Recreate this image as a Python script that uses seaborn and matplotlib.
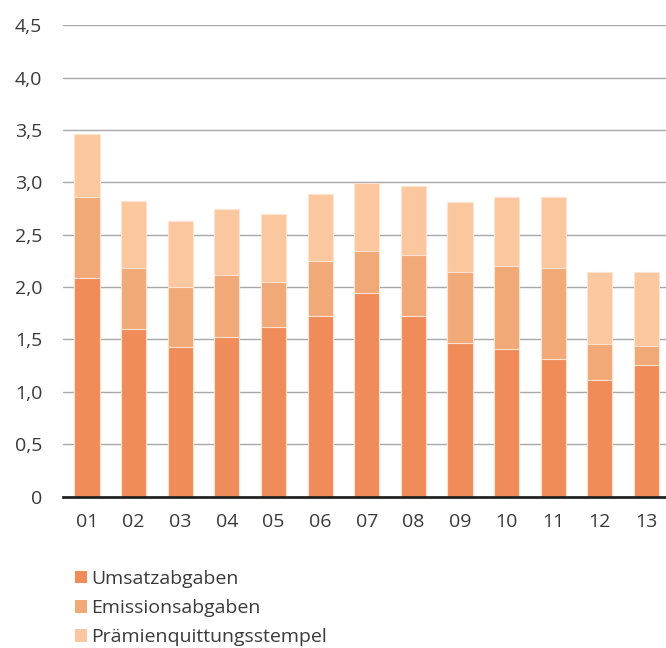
import matplotlib
matplotlib.use("Agg")
import matplotlib.pyplot as plt
import seaborn as sns
import numpy as np
import pandas as pd
from matplotlib.patches import Patch

categories = ["01", "02", "03", "04", "05", "06", "07", "08", "09", "10", "11", "12", "13"]
umsatz = [2.09, 1.60, 1.43, 1.52, 1.62, 1.72, 1.94, 1.72, 1.47, 1.41, 1.31, 1.11, 1.26]
emission = [0.77, 0.58, 0.57, 0.60, 0.43, 0.53, 0.40, 0.59, 0.67, 0.79, 0.87, 0.35, 0.18]
praemien = [0.60, 0.64, 0.63, 0.63, 0.65, 0.64, 0.65, 0.66, 0.67, 0.66, 0.68, 0.68, 0.70]
series_names = ["Umsatzabgaben", "Emissionsabgaben", "Prämienquittungsstempel"]
y_ticks = [0, 0.5, 1.0, 1.5, 2.0, 2.5, 3.0, 3.5, 4.0, 4.5]
y_tick_labels = ["0", "0,5", "1,0", "1,5", "2,0", "2,5", "3,0", "3,5", "4,0", "4,5"]

colors = ["#f08c5a", "#f2a978", "#fbc79f"]
edge = "#fde3d2"

sns.set_theme(style="white")
plt.rcParams["font.family"] = ["Open Sans", "DejaVu Sans"]
text_color = "#3a3a3a"

df = pd.DataFrame({"cat": categories, "u": umsatz, "e": emission, "p": praemien})
df["l1"] = df["u"]
df["l2"] = df["u"] + df["e"]
df["l3"] = df["u"] + df["e"] + df["p"]

fig = plt.figure(figsize=(6.66, 6.48), dpi=100)
ax = fig.add_axes([63 / 666, 1 - 496.5 / 648, 1 - 63 / 666, (496.5 - 25.3) / 648])

for col, c, z in [("l3", colors[2], 2), ("l2", colors[1], 3), ("l1", colors[0], 4)]:
    sns.barplot(data=df, x="cat", y=col, color=c, width=0.54, saturation=1,
                edgecolor=edge, linewidth=0.8, ax=ax, zorder=z)

ax.set_xlim(-0.515, 12.42)
ax.set_ylim(0, 4.5)
ax.set_yticks(y_ticks)
ax.set_yticklabels(y_tick_labels)
ax.set_xlabel("")
ax.set_ylabel("")
ax.grid(axis="y", color="#a8a8a8", linewidth=1.0, zorder=0)
ax.set_axisbelow(True)
for s in ["top", "right", "left"]:
    ax.spines[s].set_visible(False)
ax.spines["bottom"].set_color("#222222")
ax.spines["bottom"].set_linewidth(2.0)
ax.spines["bottom"].set_zorder(10)
ax.tick_params(axis="y", length=0, pad=15, labelsize=14, labelcolor=text_color)
ax.tick_params(axis="x", length=0, pad=12, labelsize=14, labelcolor=text_color)

handles = [Patch(facecolor=c, edgecolor="none") for c in colors]
leg = fig.legend(handles, series_names, loc="upper left",
                 bbox_to_anchor=(67 / 666, 1 - 562 / 648), frameon=False,
                 fontsize=14, handlelength=0.62, handleheight=0.62,
                 handletextpad=0.22, labelspacing=0.58, borderaxespad=0)
for t in leg.get_texts():
    t.set_color(text_color)

fig.savefig("out.png", dpi=100)
